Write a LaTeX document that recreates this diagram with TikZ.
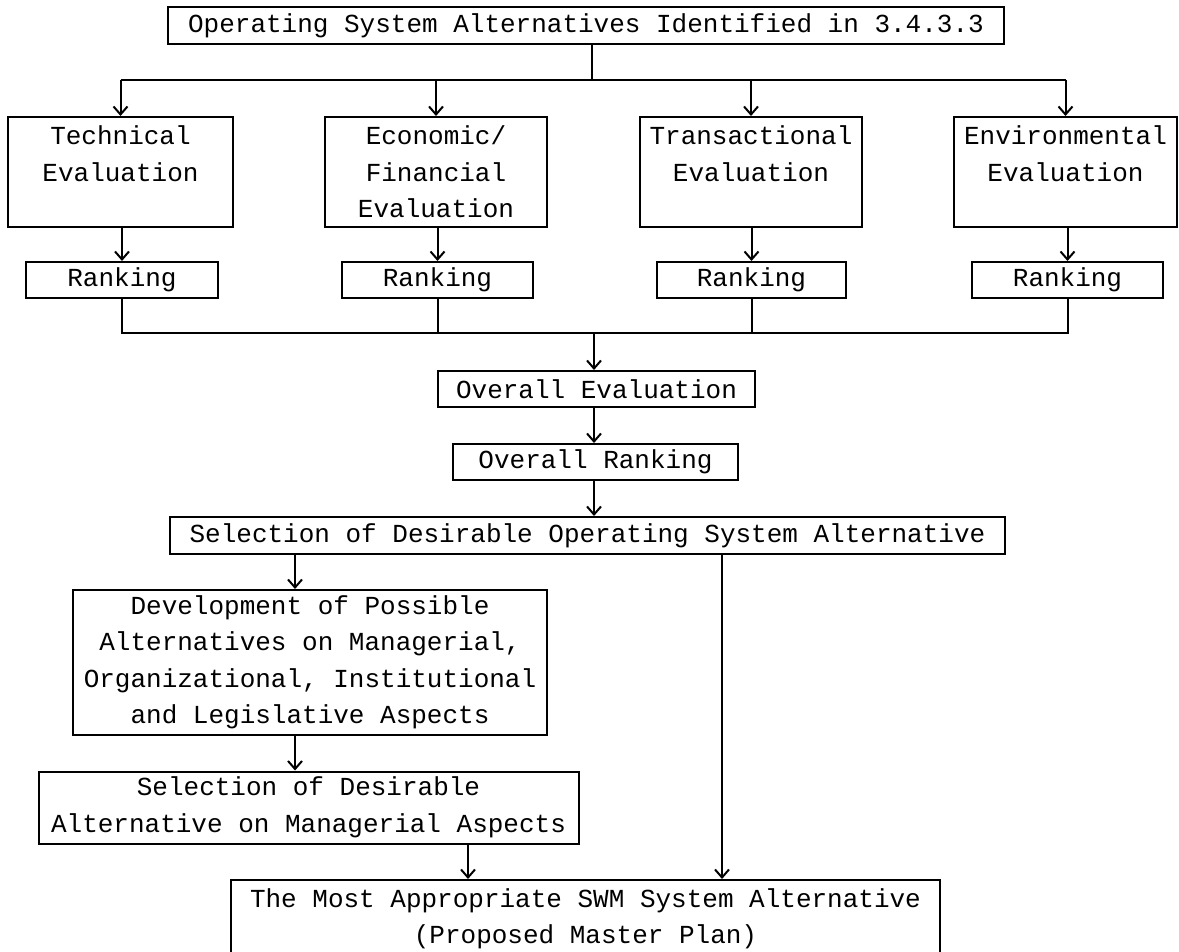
\documentclass[tikz,border=0pt]{standalone}
\usepackage{fontspec}
\newfontfamily\monoface{Liberation Mono}
\usetikzlibrary{arrows.meta}
\begin{document}
\begin{tikzpicture}[x=0.5pt,y=-0.5pt,
  box/.style={draw,line width=1pt,rectangle,inner sep=0pt,align=center,
    font=\monoface\fontsize{13}{18.25}\selectfont},
  link/.style={line width=1pt},
  arr/.style={line width=1pt,-{Straight Barb[length=4pt,width=7pt,line width=1pt]}}]
\useasboundingbox (0,0) rectangle (1179,952);
\clip (0,0) rectangle (1179,952);
\fill[white] (0,0) rectangle (1179,952);

\node[box,minimum width=418pt,minimum height=18.5pt] (top) at (586,25.5)
  {Operating System Alternatives Identified in 3.4.3.3};

\node[box,minimum width=112.5pt,minimum height=55pt] (tech) at (120.5,172) {Technical\\Evaluation\\~};
\node[box,minimum width=111pt,minimum height=55pt] (econ) at (436,172) {Economic/\\Financial\\Evaluation};
\node[box,minimum width=111pt,minimum height=55pt] (trans) at (751,172) {Transactional\\Evaluation\\~};
\node[box,minimum width=111.5pt,minimum height=55pt] (env) at (1065.5,172) {Environmental\\Evaluation\\~};

\node[box,minimum width=96pt,minimum height=18pt] (r1) at (122,280) {Ranking};
\node[box,minimum width=95.5pt,minimum height=18pt] (r2) at (437.5,280) {Ranking};
\node[box,minimum width=94.5pt,minimum height=18pt] (r3) at (751.5,280) {Ranking};
\node[box,minimum width=95.5pt,minimum height=18pt] (r4) at (1067.5,280) {Ranking};

\node[box,minimum width=158.5pt,minimum height=18pt] (oe) at (596.5,389) {Overall Evaluation};
\node[box,minimum width=142.5pt,minimum height=18pt] (ork) at (595.5,462) {Overall Ranking};
\node[box,minimum width=417.5pt,minimum height=18.5pt] (sel) at (587.5,535.5)
  {Selection of Desirable Operating System Alternative};

\node[box,minimum width=237pt,minimum height=72.5pt] (dev) at (310,662.5)
  {Development of Possible\\Alternatives on Managerial,\\Organizational, Institutional\\and Legislative Aspects};
\node[box,minimum width=270pt,minimum height=36pt] (sel2) at (308.5,807.5)
  {Selection of Desirable\\Alternative on Managerial Aspects};
\node[box,minimum width=354.5pt,minimum height=39pt] (fin) at (585.5,919)
  {The Most Appropriate SWM System Alternative\\(Proposed Master Plan)};

% distribution from top
\coordinate (j1) at (592,80);
\draw[link] (top.south -| j1) -- (j1);
\draw[link] (j1 -| tech.north) -- (j1 -| env.north);
\draw[arr] (j1 -| tech.north) -- (tech.north);
\draw[arr] (j1 -| econ.north) -- (econ.north);
\draw[arr] (j1 -| trans.north) -- (trans.north);
\draw[arr] (j1 -| env.north) -- (env.north);

% evaluation to ranking
\draw[arr] (tech.south -| r1.north) -- (r1.north);
\draw[arr] (econ.south -| r2.north) -- (r2.north);
\draw[arr] (trans.south -| r3.north) -- (r3.north);
\draw[arr] (env.south -| r4.north) -- (r4.north);

% collect rankings
\coordinate (j2) at (594,333);
\draw[link] (r1.south) -- (r1.south |- j2) -- (r4.south |- j2) -- (r4.south);
\draw[link] (r2.south) -- (r2.south |- j2);
\draw[link] (r3.south) -- (r3.south |- j2);
\draw[arr] (j2) -- (oe.north -| j2);
\draw[arr] (oe.south -| j2) -- (ork.north -| j2);
\draw[arr] (ork.south -| j2) -- (sel.north -| j2);

% lower part
\coordinate (a1) at (295,0);
\coordinate (a2) at (468,0);
\coordinate (a3) at (722,0);
\draw[arr] (sel.south -| a1) -- (dev.north -| a1);
\draw[arr] (dev.south -| a1) -- (sel2.north -| a1);
\draw[arr] (sel2.south -| a2) -- (fin.north -| a2);
\draw[arr] (sel.south -| a3) -- (fin.north -| a3);
\end{tikzpicture}
\end{document}
